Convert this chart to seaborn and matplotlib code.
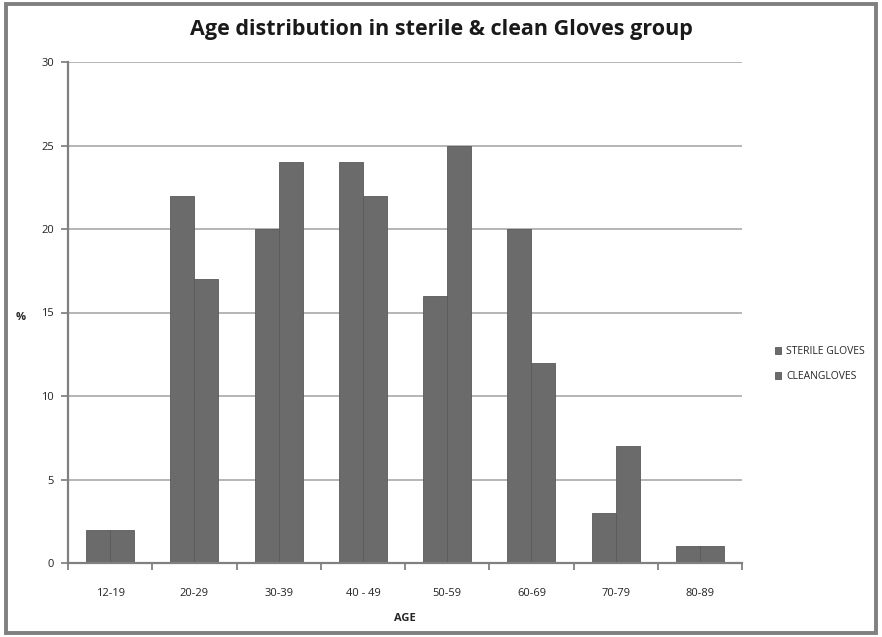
import matplotlib
matplotlib.use("Agg")
import matplotlib.pyplot as plt
import seaborn as sns
import pandas as pd
from matplotlib.patches import Rectangle

categories = ["12-19", "20-29", "30-39", "40 - 49", "50-59", "60-69", "70-79", "80-89"]
sterile = [2, 22, 20, 24, 16, 20, 3, 1]
clean = [2, 17, 24, 22, 25, 12, 7, 1]
series_names = ["STERILE GLOVES", "CLEANGLOVES"]

df = pd.DataFrame({
    "AGE": categories * 2,
    "pct": sterile + clean,
    "group": [series_names[0]] * len(categories) + [series_names[1]] * len(categories),
})

sns.set_theme(style="white")
plt.rcParams["font.family"] = ["Open Sans", "DejaVu Sans"]

fig = plt.figure(figsize=(8.82, 6.37), dpi=100)
ax = fig.add_axes([68/882, 74/637, 674/882, 501/637])

sns.barplot(data=df, x="AGE", y="pct", hue="group", order=categories,
            hue_order=series_names, palette=["#6b6b6b", "#6b6b6b"],
            width=0.57, gap=0, edgecolor="#5a5a5a", linewidth=0.6, ax=ax, legend=True)

ax.set_ylim(0, 30)
ax.set_yticks(range(0, 31, 5))
ax.yaxis.grid(True, color="#b0b0b0", linewidth=1.3)
ax.set_axisbelow(True)
for s in ["top", "right"]:
    ax.spines[s].set_visible(False)
ax.spines["left"].set_color("#808080")
ax.spines["left"].set_linewidth(1.6)
ax.spines["bottom"].set_color("#808080")
ax.spines["bottom"].set_linewidth(1.6)
ax.tick_params(axis="y", which="both", left=True, length=5, color="#808080",
               labelsize=8, pad=5, labelcolor="#222222")
ax.set_xticks(range(len(categories)))
ax.set_xticklabels(categories, fontsize=8)
ax.tick_params(axis="x", bottom=False, labelsize=8, pad=12, labelcolor="#222222")
ax.set_xticks([i - 0.5 for i in range(len(categories) + 1)], minor=True)
ax.tick_params(axis="x", which="minor", bottom=True, length=5, color="#808080", width=1.3)
ax.set_xlim(-0.5, len(categories) - 0.5)

ax.set_xlabel("AGE", fontsize=8, fontweight="bold", labelpad=10)
ax.set_ylabel("%", fontsize=8, fontweight="bold", rotation=0, labelpad=20)
ax.yaxis.set_label_coords(-0.07, 0.48)

fig.text(0.5, 1 - 30/637, "Age distribution in sterile & clean Gloves group",
         fontsize=15.5, fontweight="bold", ha="center", va="center", color="#1a1a1a")

leg = ax.legend(loc="center left", bbox_to_anchor=(1.035, 0.397), frameon=False,
                fontsize=7.5, handlelength=0.6, handleheight=0.6, handletextpad=0.5,
                labelspacing=1.3)

fig.patches.append(Rectangle((0.007, 0.007), 0.986, 0.986, transform=fig.transFigure,
                             fill=False, edgecolor="#808080", linewidth=2.8))

fig.savefig("out.png", dpi=100, facecolor="white")
